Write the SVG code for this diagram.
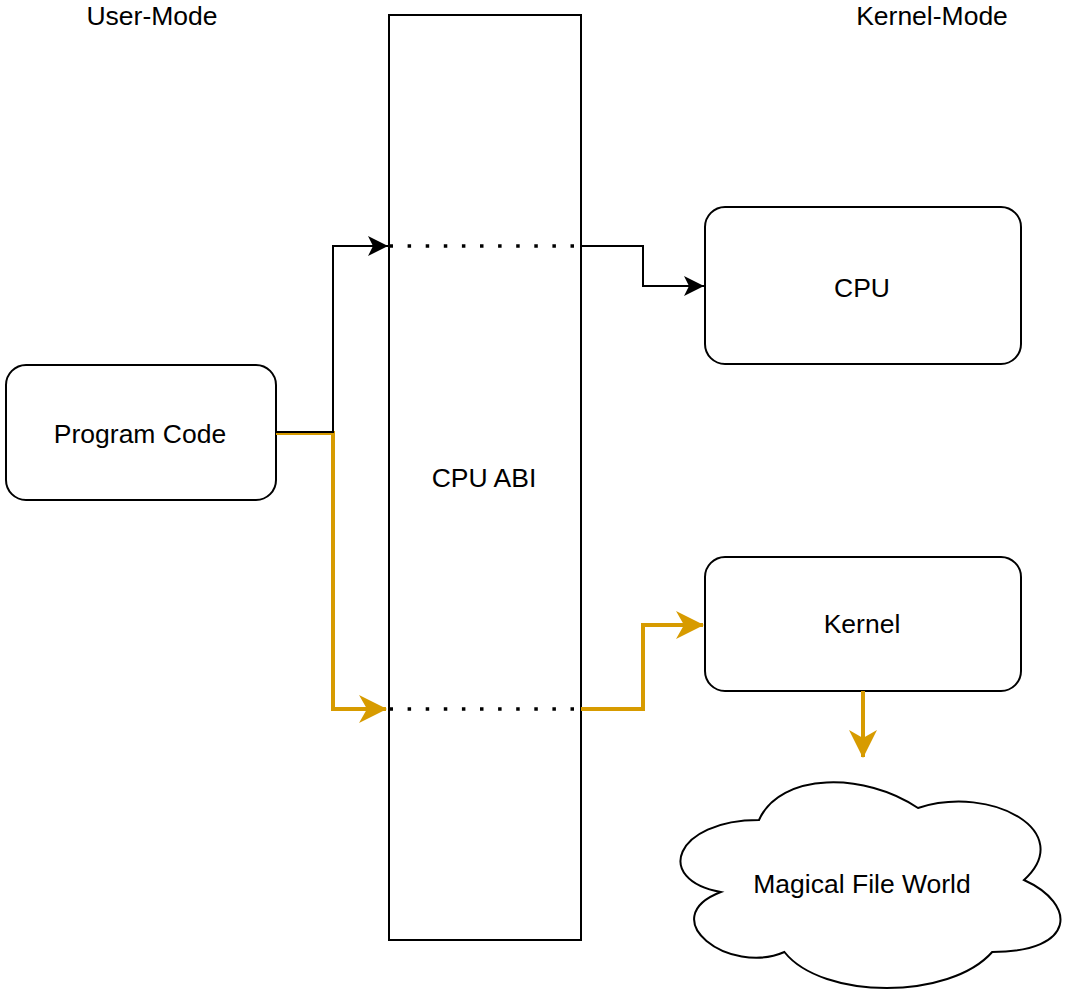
<svg xmlns="http://www.w3.org/2000/svg" width="1070" height="997" viewBox="0 0 1070 997">
<defs>
<style>
.box{fill:#fff;stroke:#000;stroke-width:2}
.lbl{font-family:"Liberation Sans",Arial,sans-serif;font-size:26.5px;fill:#000;text-anchor:middle}
.blk{fill:none;stroke:#000;stroke-width:2}
.org{fill:none;stroke:#d79b00;stroke-width:4}
.dot{fill:none;stroke:#000;stroke-width:3.5;stroke-dasharray:3.5 14.6}
</style>
<marker id="ab" markerUnits="userSpaceOnUse" viewBox="0 0 20 20" refX="20" refY="10" markerWidth="20" markerHeight="20" orient="auto">
<path d="M0,0 L20,10 L0,20 L5,10 Z" fill="#000"/>
</marker>
<marker id="ao" markerUnits="userSpaceOnUse" viewBox="0 0 28 28" refX="27" refY="14" markerWidth="28" markerHeight="28" orient="auto">
<path d="M0,0 L28,14 L0,28 L8,14 Z" fill="#d79b00"/>
</marker>
</defs>
<rect width="1070" height="997" fill="#fff"/>

<g id="user-mode"><text class="lbl" x="152" y="25">User-Mode</text></g>
<g id="kernel-mode"><text class="lbl" x="932" y="25">Kernel-Mode</text></g>

<g id="cpu-abi">
<rect class="box" x="389" y="15" width="192" height="925"/>
<text class="lbl" x="484" y="487">CPU ABI</text>
</g>

<g id="program-code">
<rect class="box" x="6" y="365" width="270" height="135" rx="20" ry="20"/>
<text class="lbl" x="140" y="443">Program Code</text>
</g>

<g id="cpu">
<rect class="box" x="705" y="207" width="316" height="157" rx="20" ry="20"/>
<text class="lbl" x="862" y="297">CPU</text>
</g>

<g id="kernel">
<rect class="box" x="705" y="557" width="316" height="134" rx="20" ry="20"/>
<text class="lbl" x="862" y="633">Kernel</text>
</g>

<g id="magical-file-world">
<path class="box" d="M759,820 C674.2,820 653,880 720.8,892 C653,918.4 729.3,976 784.4,952 C822.6,1000 949.8,1000 992.2,952 C1077,952 1077,904 1024,880 C1077,832 992.2,784 918,808 C865,772 780.2,772 759,820 Z"/>
<text class="lbl" x="862" y="893">Magical File World</text>
</g>

<g id="connectors">
<path class="org" d="M276,433 H333 V709 H386" marker-end="url(#ao)"/>
<path class="org" d="M581,709 H643 V625 H703" marker-end="url(#ao)"/>
<path class="org" d="M863,691 V757" marker-end="url(#ao)"/>
<path class="blk" d="M276,432 H333 V246 H388" marker-end="url(#ab)"/>
<path class="blk" d="M581,246 H643 V286 H704" marker-end="url(#ab)"/>
<path class="dot" d="M389.5,246 H581"/>
<path class="dot" d="M389.5,709 H581"/>
</g>
</svg>
